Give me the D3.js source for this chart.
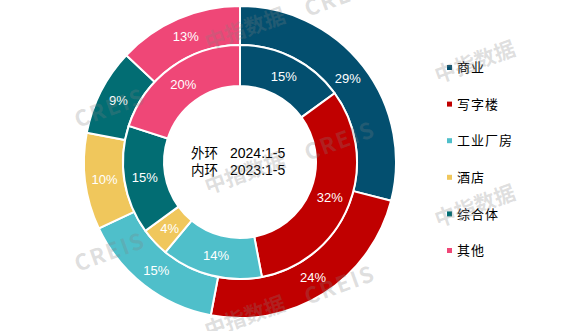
<!DOCTYPE html>
<html>
<head>
<meta charset="utf-8">
<script src="https://cdn.jsdelivr.net/npm/d3@7/dist/d3.min.js"></script>
<style>
  html, body { margin: 0; padding: 0; background: #fff; }
  svg { display: block; }
</style>
</head>
<body>
<svg id="chart" width="579" height="331"></svg>
<script>
// Land transaction structure by use type
const categories = ["商业", "写字楼", "工业厂房", "酒店", "综合体", "其他"];
const colors = ["#034F6F", "#C00000", "#4FBFCA", "#F0C75C", "#026D73", "#EF4777"];
const outer2024 = [29, 24, 15, 10, 9, 13];   // 外环 2024:1-5
const inner2023 = [15, 32, 14, 4, 15, 20];   // 内环 2023:1-5
const ringNames = ["外环", "内环"];
const periods = ["2024:1-5", "2023:1-5"];
const brandCn = "中指数据";
const brandEn = "CREIS";

const W = 579, H = 331;
const cx = 240, cy = 162;
const svg = d3.select("#chart");

const pie = d3.pie().sort(null).value(d => d.v).startAngle(0).endAngle(2 * Math.PI);
const color = d3.scaleOrdinal().domain(categories).range(colors);

function ring(values, r0, r1) {
  const data = pie(categories.map((c, i) => ({ c, v: values[i] })));
  const arc = d3.arc().innerRadius(r0).outerRadius(r1);
  const labelArc = d3.arc().innerRadius((r0 + r1) / 2).outerRadius((r0 + r1) / 2);
  const g = svg.append("g").attr("transform", `translate(${cx},${cy})`);
  g.selectAll("path").data(data).join("path")
    .attr("d", arc)
    .attr("fill", d => color(d.data.c))
    .attr("stroke", "#fff")
    .attr("stroke-width", 2)
    .attr("stroke-linejoin", "miter");
  g.selectAll("text").data(data).join("text")
    .attr("transform", d => `translate(${labelArc.centroid(d)})`)
    .attr("text-anchor", "middle")
    .attr("dy", "0.36em")
    .attr("fill", "#fff")
    .attr("font-family", "Liberation Sans, Arial, sans-serif")
    .attr("font-size", 13)
    .text(d => d.data.v + "%");
}

ring(outer2024, 117, 156);
ring(inner2023, 76, 117);

// Centre caption: ring name + period
const cap = svg.append("g").selectAll("g").data(ringNames).join("g")
  .attr("transform", (d, i) => `translate(0,${157.5 + i * 17.5})`);
cap.append("text")
  .attr("x", 191)
  .attr("fill", "#000")
  .attr("font-family", "Noto Sans CJK SC, sans-serif")
  .attr("font-size", 13.5)
  .text(d => d);
cap.append("text")
  .attr("x", 230)
  .attr("fill", "#000")
  .attr("font-family", "Liberation Sans, Arial, sans-serif")
  .attr("font-size", 14)
  .text((d, i) => periods[i]);

// Legend
const legend = svg.append("g").attr("transform", "translate(447,0)");
const rowY = d3.scalePoint().domain(categories).range([67.5, 250.5]);
const rows = legend.selectAll("g").data(categories).join("g")
  .attr("transform", d => `translate(0,${rowY(d)})`);
rows.append("rect")
  .attr("x", 0).attr("y", -2.5).attr("width", 5).attr("height", 5)
  .attr("fill", d => color(d));
rows.append("text")
  .attr("x", 10).attr("dy", "0.36em")
  .attr("fill", "#000")
  .attr("font-family", "Noto Sans CJK SC, sans-serif")
  .attr("font-size", 13)
  .attr("letter-spacing", 1)
  .text(d => d);

// Faint brand watermark, tiled on a skewed grid and clipped to the plot band
const clipX0 = 62, clipX1 = 525;
svg.append("defs").append("clipPath").attr("id", "wmclip")
  .append("rect").attr("x", clipX0).attr("y", 0).attr("width", clipX1 - clipX0).attr("height", H);
const pieces = [];
for (let c = -1; c <= 1; c++) for (let r = -1; r <= 2; r++) {
  const x = 245 + 230 * c, y = 173 + 33 * c + 144 * r;
  pieces.push({ x, y, t: brandCn, size: 21, ls: 0 });
  pieces.push({ x: x + 95, y: y - 32, t: brandEn, size: 22, ls: 2 });
}
const visible = pieces.filter(p => p.x > clipX0 + 20 && p.x < clipX1 - 20 && p.y > -20 && p.y < H + 10);
svg.append("g").attr("clip-path", "url(#wmclip)").attr("pointer-events", "none")
  .selectAll("text").data(visible).join("text")
  .attr("transform", d => `translate(${d.x},${d.y}) rotate(-20)`)
  .attr("text-anchor", "middle")
  .attr("dy", "0.35em")
  .attr("fill", "#808080")
  .attr("fill-opacity", 0.26)
  .attr("font-family", "Noto Sans CJK SC, sans-serif")
  .attr("font-weight", "bold")
  .attr("font-size", d => d.size)
  .attr("letter-spacing", d => d.ls)
  .text(d => d.t);
</script>
</body>
</html>
